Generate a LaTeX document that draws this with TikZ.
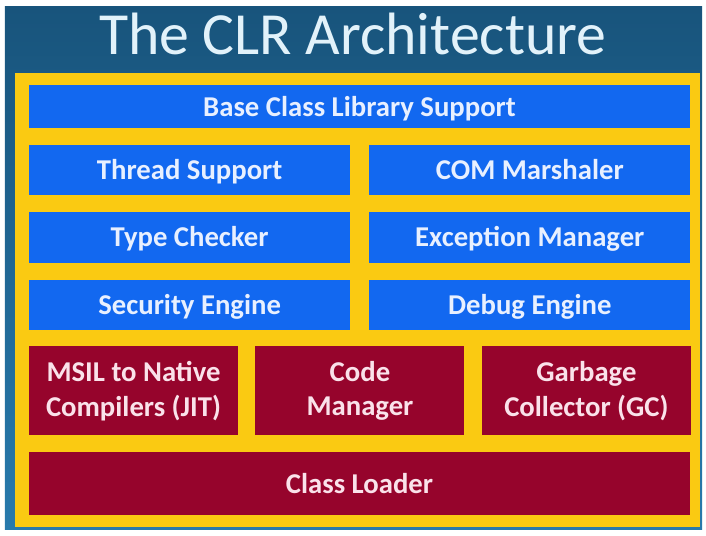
\documentclass[tikz,border=0pt]{standalone}
\usepackage{fontspec}
\setmainfont{Carlito}
\usepackage{xcolor}
\usetikzlibrary{positioning, fit, backgrounds}

\definecolor{slidetop}{RGB}{24,84,124}
\definecolor{slidebot}{RGB}{40,122,172}
\definecolor{frameyellow}{RGB}{250,202,18}
\definecolor{layerblue}{RGB}{18,104,240}
\definecolor{corered}{RGB}{150,4,44}
\definecolor{titletext}{RGB}{226,242,250}

\begin{document}
\begin{tikzpicture}[
  node distance=0.49cm,
  box/.style={align=center, inner sep=2pt, minimum width=19.83cm,
              text height=21pt, text depth=5pt,
              font=\fontsize{24.5}{29.5}\selectfont\bfseries},
  layer/.style={box, fill=layerblue, text={rgb,255:red,232;green,240;blue,255}},
  half/.style={layer, minimum width=9.64cm},
  core/.style={box, fill=corered, text={rgb,255:red,250;green,226;blue,234}},
  third/.style={core, text height=, text depth=, minimum width=6.27cm, minimum height=2.67cm}
]
\useasboundingbox (0,0) rectangle (21.18,16.08);

\node[font=\fontsize{51}{58}\selectfont, text=titletext, anchor=base] (title)
  at (10.58,14.45) {The CLR Architecture};

\node[layer, minimum height=1.29cm, anchor=north] (bcl) at (10.785,13.53) {Base Class Library Support};
\node[half, minimum height=1.5cm, below=of bcl.south west, anchor=north west] (thread) {Thread Support};
\node[half, minimum height=1.5cm, right=0.55cm of thread] (com) {COM Marshaler};
\node[half, minimum height=1.53cm, below=of thread] (type) {Type Checker};
\node[half, minimum height=1.53cm, right=0.55cm of type] (exc) {Exception Manager};
\node[half, minimum height=1.5cm, below=of type] (sec) {Security Engine};
\node[half, minimum height=1.5cm, right=0.55cm of sec] (debug) {Debug Engine};
\node[third, below=of sec.south west, anchor=north west] (jit) {MSIL to Native\\Compilers (JIT)};
\node[third, right=0.51cm of jit] (code) {Code\\Manager};
\node[third, right=0.51cm of code] (gc) {Garbage\\Collector (GC)};
\node[core, minimum height=1.89cm, below=of jit.south west, anchor=north west] (loader) {Class Loader};

\begin{scope}[on background layer]
  \shade[top color=slidetop, bottom color=slidebot] (0.15,0.18) rectangle (21.06,15.87);
  \node[fill=frameyellow, inner sep=0.35cm, xshift=-0.06cm,
        fit=(bcl)(loader)] (frame) {};
\end{scope}
\end{tikzpicture}
\end{document}
